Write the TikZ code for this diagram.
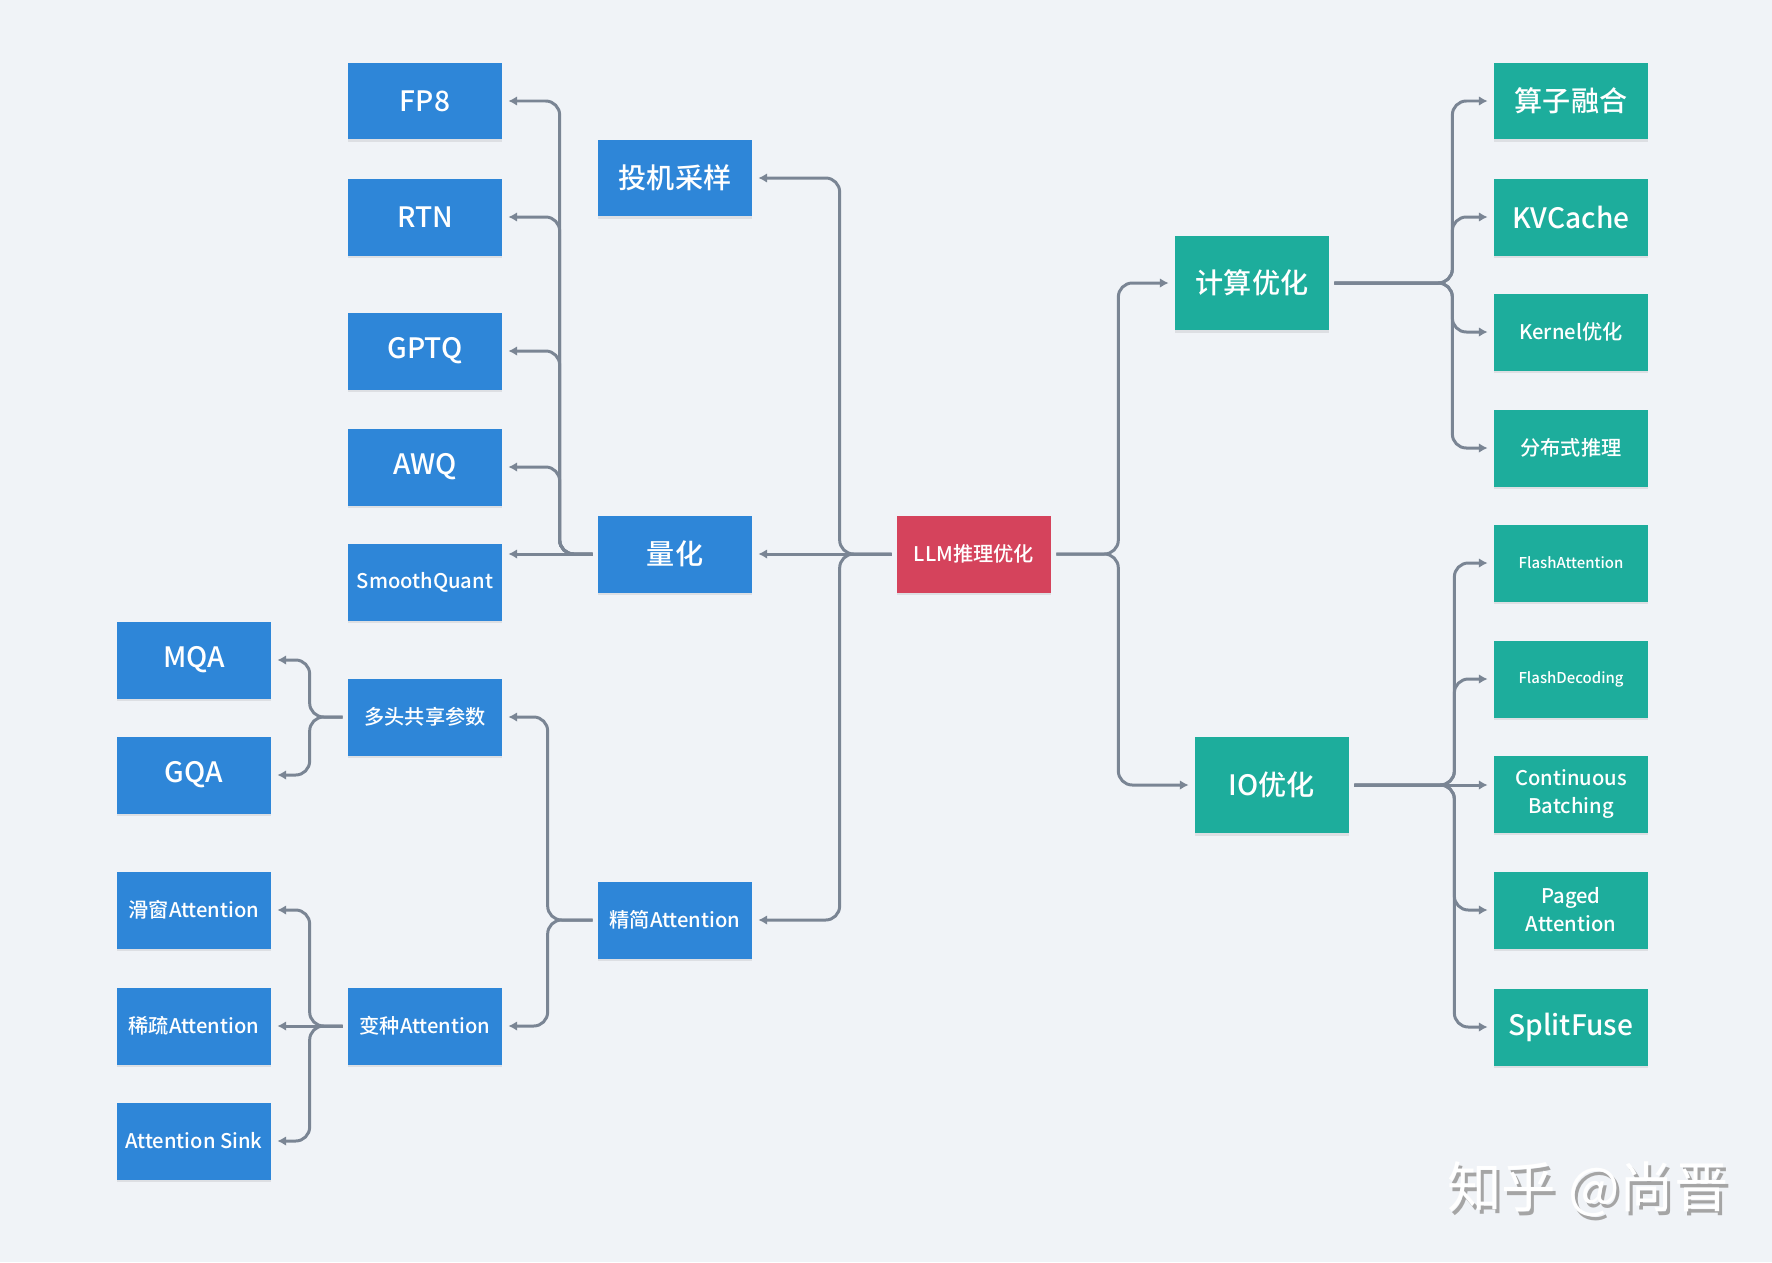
\documentclass[tikz,border=0pt]{standalone}
\usepackage{fontspec}
\setmainfont{Noto Sans CJK SC}[BoldFont={Noto Sans CJK SC Medium}]
\usetikzlibrary{arrows.meta,shadows}
\definecolor{bgC}{RGB}{240,243,247}
\definecolor{boxB}{RGB}{46,134,216}
\definecolor{boxT}{RGB}{29,173,156}
\definecolor{boxR}{RGB}{213,67,92}
\definecolor{lnG}{RGB}{122,133,148}
\definecolor{wmG}{RGB}{165,165,165}
\newcommand{\BW}{3.08cm}
\newcommand{\BH}{1.54cm}
\newcommand{\fsL}{\fontsize{16}{19}\selectfont\bfseries}
\newcommand{\fsM}{\fontsize{11.5}{16}\selectfont\bfseries}
\newcommand{\fsS}{\fontsize{8.5}{11}\selectfont\bfseries}

\begin{document}
\begin{tikzpicture}[
    x=0.02cm, y=-0.02cm,
    box/.style={text=white, minimum width=\BW, minimum height=\BH, inner sep=0pt,
      align=center, font=\fsM,
      drop shadow={shadow xshift=0pt, shadow yshift=-0.05cm, opacity=0.08, fill=black}},
    blu/.style={box, fill=boxB},
    tel/.style={box, fill=boxT},
    big/.style={font=\fsL},
    sml/.style={font=\fsS},
    conn/.style={draw=lnG, line width=1.7pt, rounded corners=0.28cm,
      shorten <=0.1cm, shorten >=0.12cm, -{Latex[length=5pt,width=5.5pt]}},
  ]
  \fill[bgC] (0,0) rectangle (1772,1262);

  %% ================= root =================
  \node[box, fill=boxR] (root) at (974,554) {LLM推理优化};

  %% ================= left half =================
  \node[blu, big] (spec)  at (675,178) {投机采样};
  \node[blu, big] (quant) at (675,554) {量化};
  \node[blu]      (slim)  at (675,920) {精简Attention};

  \node[blu, big] (fp8)  at (425,101) {FP8};
  \node[blu, big] (rtn)  at (425,217) {RTN};
  \node[blu, big] (gptq) at (425,351) {GPTQ};
  \node[blu, big] (awq)  at (425,467) {AWQ};
  \node[blu]      (smq)  at (425,582) {SmoothQuant};
  \node[blu]      (mhs)  at (425,717) {多头共享参数};
  \node[blu]      (var)  at (425,1026) {变种Attention};

  \node[blu, big] (mqa)    at (194,660) {MQA};
  \node[blu, big] (gqa)    at (194,775) {GQA};
  \node[blu]      (swa)    at (194,910) {滑窗Attention};
  \node[blu]      (sparse) at (194,1026) {稀疏Attention};
  \node[blu]      (sink)   at (194,1141) {Attention Sink};

  %% ================= right half =================
  \node[tel, big, minimum height=1.9cm] (comp) at (1252,283) {计算优化};
  \node[tel, big, minimum height=1.92cm] (io)  at (1272,785) {IO优化};

  \node[tel, big] (fuse)   at (1571,101) {算子融合};
  \node[tel, big] (kv)     at (1571,217) {KVCache};
  \node[tel]      (kernel) at (1571,332) {Kernel优化};
  \node[tel]      (dist)   at (1571,448) {分布式推理};
  \node[tel, sml] (flash)  at (1571,563) {FlashAttention};
  \node[tel, sml] (fdec)   at (1571,679) {FlashDecoding};
  \node[tel]      (cb)     at (1571,794) {Continuous\\Batching};
  \node[tel]      (paged)  at (1571,910) {Paged\\Attention};
  \node[tel, big] (split)  at (1571,1027) {SplitFuse};

  %% ---- connectors, root to its branches ----
  \draw[conn] (root.west) -- ++(-57,0) |- (spec.east);
  \draw[conn] (root.west) -- (quant.east);
  \draw[conn] (root.west) -- ++(-57,0) |- (slim.east);
  \draw[conn] (root.east) -- ++(67,0) |- (comp.west);
  \draw[conn] (root.east) -- ++(67,0) |- (io.west);

  %% ---- quantisation ----
  \foreach \t in {fp8,rtn,gptq,awq}
    \draw[conn] (quant.west) -- ++(-38,0) |- (\t.east);
  \draw[conn] (quant.west) -- (smq.east |- quant.west);

  %% ---- attention ----
  \draw[conn] (slim.west) -- ++(-50,0) |- (mhs.east);
  \draw[conn] (slim.west) -- ++(-50,0) |- (var.east);
  \foreach \t in {mqa,gqa}
    \draw[conn] (mhs.west) -- ++(-38,0) |- (\t.east);
  \draw[conn] (var.west) -- ++(-38,0) |- (swa.east);
  \draw[conn] (var.west) -- (sparse.east);
  \draw[conn] (var.west) -- ++(-38,0) |- (sink.east);

  %% ---- compute / io ----
  \foreach \t in {fuse,kv,kernel,dist}
    \draw[conn] (comp.east) -- ++(123,0) |- (\t.west);
  \foreach \t in {flash,fdec,paged,split}
    \draw[conn] (io.east) -- ++(105,0) |- (\t.west);
  \draw[conn] (io.east) -- (cb.west |- io.east);

  %% watermark
  \node[text=wmG, font=\fontsize{31}{31}\selectfont] (wms) at (1591,1193) {知乎 @尚晋};
  \node[text=white, font=\fontsize{31}{31}\selectfont] (wm) at (1588,1189) {知乎 @尚晋};
\end{tikzpicture}
\end{document}
